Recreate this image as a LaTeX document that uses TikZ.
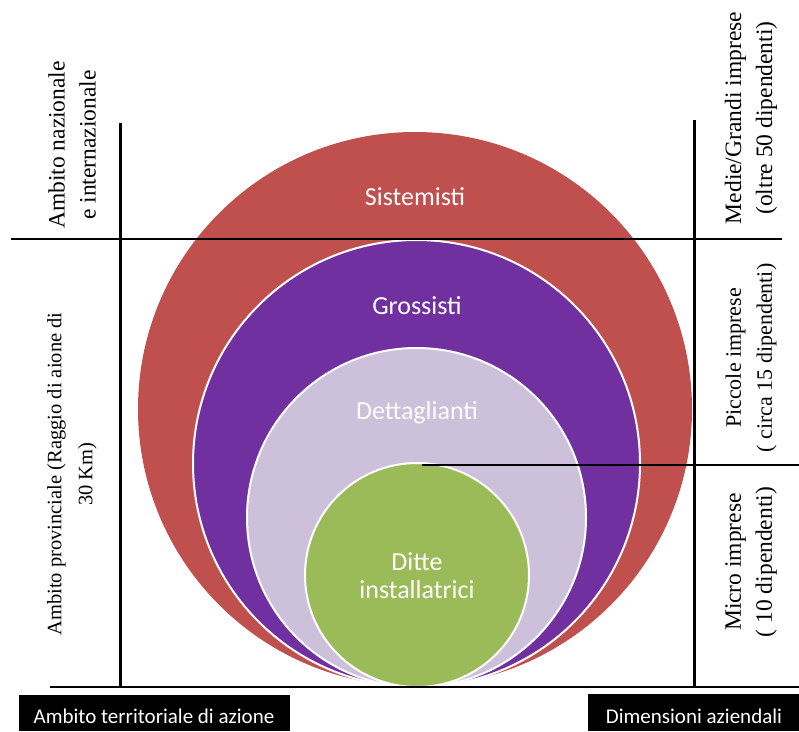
\documentclass[tikz,border=0pt]{standalone}
\usepackage{fontspec}
\setmainfont{Liberation Serif}
\newfontfamily\calib{Carlito}
\definecolor{cred}{HTML}{C0504D}
\definecolor{cpurple}{HTML}{7030A0}
\definecolor{clilac}{HTML}{CCC0DA}
\definecolor{cgreen}{HTML}{9BBB59}
\begin{document}
\begin{tikzpicture}[x=1pt,y=-1pt,
  ring/.style={draw=white,line width=2pt},
  ringlabel/.style={text=white,font=\calib\fontsize{26}{28}\selectfont,align=center},
  sidelabel/.style={rotate=90,align=center,font=\fontsize{23.5}{31}\selectfont},
  boxlabel/.style={text=white,font=\calib\fontsize{21}{24}\selectfont},
  thick line/.style={line width=3pt},
  thin line/.style={line width=1.5pt}]
\useasboundingbox (0,0) rectangle (799,731);
% circles
\fill[cred] (415,409) circle (277);
\draw[ring,fill=cpurple] (416.5,463.5) circle (223.5);
\draw[ring,fill=clilac] (416.5,517.5) circle (169.5);
\draw[ring,fill=cgreen] (417,575) circle (112);
\coordinate (gtop) at (422,465);
% labels in circles
\node[ringlabel] (sis) at (415,197) {Sistemisti};
\node[ringlabel] (gro) at (417,306) {Grossisti};
\node[ringlabel] (det) at (417,413) {Dettaglianti};
\node[ringlabel] (dit) at (417,576) {Ditte\\installatrici};
% lines
\coordinate (lv1) at (120,123); \coordinate (lv2) at (120,687);
\coordinate (rv1) at (694,120); \coordinate (rv2) at (694,687);
\coordinate (h1a) at (11,239); \coordinate (h1b) at (782,239);
\coordinate (h2b) at (799,465);
\coordinate (ba) at (50,687); \coordinate (bb) at (799,687);
\draw[thick line] (lv1) -- (lv2);
\draw[thick line] (rv1) -- (rv2);
\draw[thin line] (h1a) -- (h1b);
\draw[thin line] (gtop) -- (h2b);
\draw[line width=2pt] (ba) -- (bb);
% side labels
\node[sidelabel] (l1) at (72,145) {Ambito nazionale\\e internazionale};
\node[sidelabel,font=\fontsize{20.5}{31}\selectfont] (l2) at (72,474) {Ambito provinciale (Raggio di aione di\\30 Km)};
\node[sidelabel] (r1) at (751,118) {Medie/Grandi imprese\\(oltre 50 dipendenti)};
\node[sidelabel,font=\fontsize{22}{31}\selectfont] (r2) at (751,358) {Piccole imprese\\( circa 15 dipendenti)};
\node[sidelabel] (r3) at (751,562) {Micro imprese\\( 10 dipendenti)};
% bottom boxes
\fill[black] (19,695) rectangle (290,731);
\node[boxlabel] (bl) at (154,716) {Ambito territoriale di azione};
\fill[black] (588,694) rectangle (799,731);
\node[boxlabel] (br) at (694,716) {Dimensioni aziendali};
\end{tikzpicture}
\end{document}
